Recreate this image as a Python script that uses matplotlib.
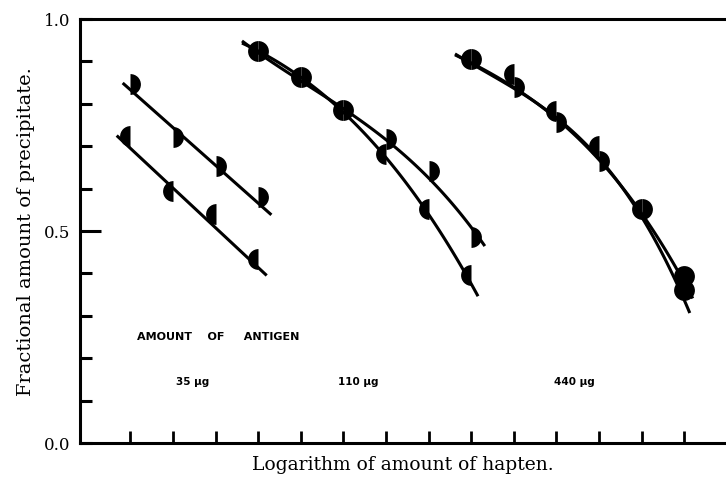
import matplotlib.pyplot as plt
import numpy as np

# tick index on the log-hapten axis (no numeric labels in the original)
x_ticks = list(range(14))
y_ticks = [round(0.1 * i, 1) for i in range(11)]
y_labels = {0.0: "0.0", 0.5: "0.5", 1.0: "1.0"}

# ---- measured points (half-filled circles) ----
# 35 ug antigen
x35_a = [0, 1, 2, 3]
y35_a = [0.847, 0.722, 0.654, 0.580]
f35_a = ['right', 'right', 'right', 'right']

x35_b = [0, 1, 2, 3]
y35_b = [0.725, 0.595, 0.540, 0.434]
f35_b = ['left', 'left', 'left', 'left']

# 110 ug antigen (first three points shared -> full circles)
x110_a = [3, 4, 5, 6, 7, 8]
y110_a = [0.925, 0.863, 0.785, 0.717, 0.642, 0.486]
f110_a = ['right'] * 6

x110_b = [3, 4, 5, 6, 7, 8]
y110_b = [0.925, 0.863, 0.785, 0.682, 0.552, 0.395]
f110_b = ['left'] * 6

# 440 ug antigen
x440_a = [8, 9, 10, 11, 12, 13]
y440_a = [0.906, 0.870, 0.784, 0.701, 0.552, 0.394]
f440_a = ['left', 'left', 'left', 'left', 'left', 'full']

x440_b = [8, 9, 10, 11, 12, 13]
y440_b = [0.906, 0.840, 0.757, 0.666, 0.552, 0.361]
f440_b = ['right', 'right', 'right', 'right', 'right', 'full']

# ---- hand-drawn curves (nodes) ----
cx35_a = [-0.18, 3.31]
cy35_a = [0.849, 0.538]
cx35_b = [-0.32, 3.20]
cy35_b = [0.725, 0.395]

cx110_a = [2.62, 3.35, 4.38, 4.99, 5.39, 6.16, 6.96, 7.73, 8.32]
cy110_a = [0.946, 0.899, 0.835, 0.785, 0.757, 0.700, 0.634, 0.545, 0.462]
cx110_b = [2.62, 3.35, 4.38, 4.99, 5.39, 5.97, 6.56, 7.33, 8.16]
cy110_b = [0.946, 0.899, 0.835, 0.785, 0.741, 0.677, 0.599, 0.488, 0.347]

cx440_a = [7.62, 8.20, 8.91, 9.54, 10.15, 10.86, 11.42, 11.92, 12.55, 13.20]
cy440_a = [0.913, 0.889, 0.847, 0.800, 0.745, 0.689, 0.618, 0.552, 0.458, 0.340]
cx440_b = [7.62, 8.20, 8.91, 9.54, 10.15, 10.86, 11.42, 11.92, 12.43, 13.13]
cy440_b = [0.913, 0.889, 0.847, 0.800, 0.745, 0.689, 0.618, 0.552, 0.458, 0.304]

points = [
    (x35_a, y35_a, f35_a), (x35_b, y35_b, f35_b),
    (x110_a, y110_a, f110_a), (x110_b, y110_b, f110_b),
    (x440_a, y440_a, f440_a), (x440_b, y440_b, f440_b),
]
# (nodes x, nodes y, smoothing degree)
curves = [
    (cx35_a, cy35_a, 1), (cx35_b, cy35_b, 1),
    (cx110_a, cy110_a, 3), (cx110_b, cy110_b, 3),
    (cx440_a, cy440_a, 3), (cx440_b, cy440_b, 3),
]

fig = plt.figure(figsize=(7.26, 4.81), dpi=100)
ax = fig.add_axes([0.110, 0.077, 0.890, 0.8815])

for cx, cy, deg in curves:
    # smooth the hand-drawn line
    coef = np.polyfit(cx, cy, deg)
    xx = np.linspace(cx[0], cx[-1], 120)
    ax.plot(xx, np.polyval(coef, xx), color='black', lw=2.2, solid_capstyle='butt')

for xs, ys, fills in points:
    for x, y, fs in zip(xs, ys, fills):
        ax.plot([x], [y], marker='o', ms=15, color='black', fillstyle=fs,
                markerfacecoloralt='none', mew=0, zorder=3)

ax.set_xlim(-1.185, 13.98)
ax.set_ylim(0, 1)

ax.spines['right'].set_visible(False)
for s in ['left', 'bottom', 'top']:
    ax.spines[s].set_linewidth(2.2)

ax.set_xticks(x_ticks)
ax.set_xticklabels([])
ax.tick_params(axis='x', direction='in', length=8.5, width=2)
ax.set_yticks(y_ticks)
ax.set_yticklabels([y_labels.get(t, "") for t in y_ticks], family='DejaVu Serif', fontsize=12)
ax.tick_params(axis='y', direction='in', length=8.5, width=2.2, pad=7)
# the 0.5 tick is longer
ax.yaxis.get_major_ticks()[5].tick1line.set_markersize(15)

ax.set_ylabel("Fractional amount of precipitate.", family='DejaVu Serif', fontsize=14, labelpad=6)
ax.set_xlabel("Logarithm of amount of hapten.", family='DejaVu Serif', fontsize=13.5, labelpad=5)

ax.text(2.06, 0.252, "AMOUNT    OF     ANTIGEN", fontsize=8, fontweight='bold', ha='center', va='center')
ax.text(1.47, 0.146, "35 \u03bcg", fontsize=7.5, fontweight='bold', ha='center', va='center')
ax.text(5.34, 0.146, "110 \u03bcg", fontsize=7.5, fontweight='bold', ha='center', va='center')
ax.text(10.43, 0.146, "440 \u03bcg", fontsize=7.5, fontweight='bold', ha='center', va='center')

fig.savefig('out.png', dpi=100)
